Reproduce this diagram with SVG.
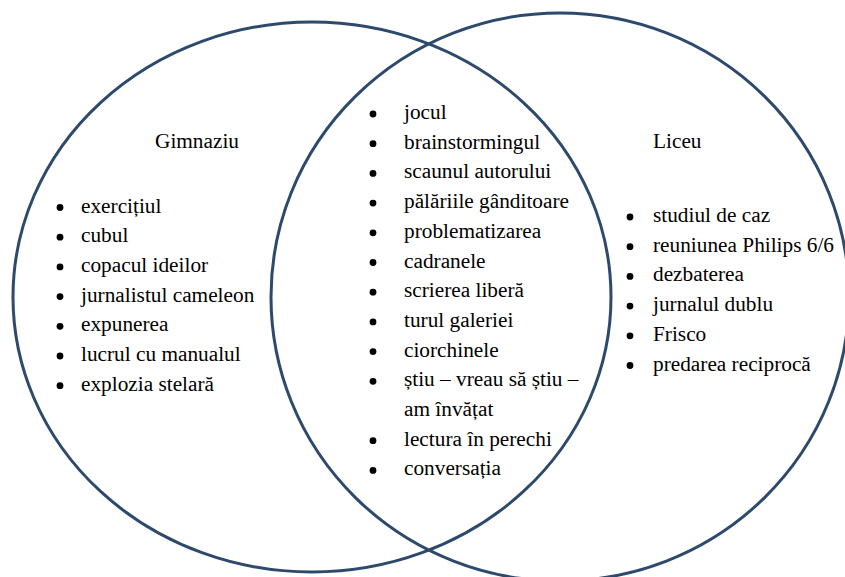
<svg xmlns="http://www.w3.org/2000/svg" width="845" height="577" viewBox="0 0 845 577" font-family="'Liberation Serif', 'DejaVu Serif', serif">
<style>
.set{fill:none;stroke:#2d4a6d;stroke-width:3}
.t{font-family:'Liberation Serif','DejaVu Serif',serif;font-size:21.3px;fill:#000}
.b{fill:#000}
</style>
<rect width="845" height="577" fill="#fff"/>
<g id="sets">
<ellipse id="set-gimnaziu" class="set" cx="312" cy="297" rx="299" ry="275"/>
<ellipse id="set-liceu" class="set" cx="560" cy="297" rx="289" ry="284"/>
</g>
<g id="gimnaziu" class="t">
<text x="155" y="148">Gimnaziu</text>
<circle class="b" cx="60" cy="207.5" r="3.4"/><text x="81" y="212.5">exercițiul</text>
<circle class="b" cx="60" cy="237.2" r="3.4"/><text x="81" y="242.2">cubul</text>
<circle class="b" cx="60" cy="266.9" r="3.4"/><text x="81" y="271.9">copacul ideilor</text>
<circle class="b" cx="60" cy="296.6" r="3.4"/><text x="81" y="301.6">jurnalistul cameleon</text>
<circle class="b" cx="60" cy="326.3" r="3.4"/><text x="81" y="331.3">expunerea</text>
<circle class="b" cx="60" cy="356" r="3.4"/><text x="81" y="361">lucrul cu manualul</text>
<circle class="b" cx="60" cy="385.7" r="3.4"/><text x="81" y="390.7">explozia stelară</text>
</g>
<g id="comune" class="t">
<circle class="b" cx="373" cy="114" r="3.4"/><text x="404" y="119">jocul</text>
<circle class="b" cx="373" cy="143.7" r="3.4"/><text x="404" y="148.7">brainstormingul</text>
<circle class="b" cx="373" cy="173.4" r="3.4"/><text x="404" y="178.4">scaunul autorului</text>
<circle class="b" cx="373" cy="203.1" r="3.4"/><text x="404" y="208.1">pălăriile gânditoare</text>
<circle class="b" cx="373" cy="232.8" r="3.4"/><text x="404" y="237.8">problematizarea</text>
<circle class="b" cx="373" cy="262.5" r="3.4"/><text x="404" y="267.5">cadranele</text>
<circle class="b" cx="373" cy="292.2" r="3.4"/><text x="404" y="297.2">scrierea liberă</text>
<circle class="b" cx="373" cy="321.9" r="3.4"/><text x="404" y="326.9">turul galeriei</text>
<circle class="b" cx="373" cy="351.6" r="3.4"/><text x="404" y="356.6">ciorchinele</text>
<circle class="b" cx="373" cy="381.3" r="3.4"/><text x="404" y="386.3">știu – vreau să știu –</text>
<text x="404" y="416">am învățat</text>
<circle class="b" cx="373" cy="440.7" r="3.4"/><text x="404" y="445.7">lectura în perechi</text>
<circle class="b" cx="373" cy="470.4" r="3.4"/><text x="404" y="475.4">conversația</text>
</g>
<g id="liceu" class="t">
<text x="653" y="148">Liceu</text>
<circle class="b" cx="630" cy="217" r="3.4"/><text x="653" y="222">studiul de caz</text>
<circle class="b" cx="630" cy="246.7" r="3.4"/><text x="653" y="251.7">reuniunea Philips 6/6</text>
<circle class="b" cx="630" cy="276.4" r="3.4"/><text x="653" y="281.4">dezbaterea</text>
<circle class="b" cx="630" cy="306.1" r="3.4"/><text x="653" y="311.1">jurnalul dublu</text>
<circle class="b" cx="630" cy="335.8" r="3.4"/><text x="653" y="340.8">Frisco</text>
<circle class="b" cx="630" cy="365.5" r="3.4"/><text x="653" y="370.5">predarea reciprocă</text>
</g>
</svg>
